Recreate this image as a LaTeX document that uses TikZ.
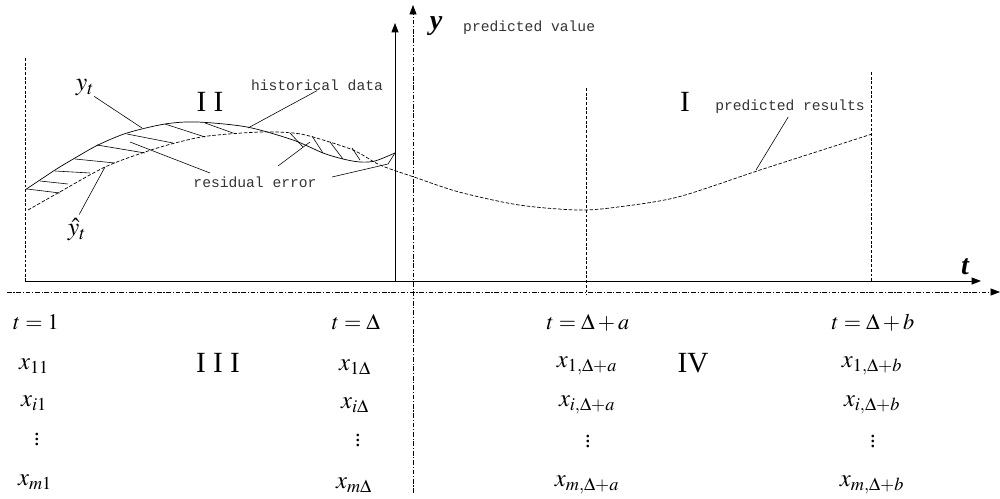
\documentclass[tikz,border=0pt]{standalone}
\usepackage{mathptmx}
\usepackage{fontspec}
\setmainfont{Liberation Serif}
\newfontfamily\annofont{Liberation Mono}
\usetikzlibrary{arrows.meta}
\tikzset{
  axis/.style={line width=0.8pt, -{Triangle[length=8pt,width=6pt]}},
  centre/.style={line width=0.6pt, dash pattern=on 4pt off 1.5pt on 1pt off 1.5pt,
              -{Triangle[length=8pt,width=6pt]}},
  guide/.style={line width=0.5pt, dash pattern=on 2.5pt off 1.5pt},
  fitted/.style={line width=0.6pt, dash pattern=on 3pt off 1.5pt},
  observed/.style={line width=0.6pt},
  hatch/.style={line width=0.5pt},
  leader/.style={line width=0.5pt},
  anno/.style={font=\annofont\fontsize{12.5}{14}\selectfont, text=black!80, inner sep=0pt},
  numeral/.style={font=\fontsize{25}{28}\selectfont, inner sep=0pt},
  eqn/.style={font=\fontsize{19}{22}\selectfont, inner sep=0pt},
  entry/.style={font=\fontsize{21}{24}\selectfont, inner sep=0pt},
  dots/.style={font=\fontsize{19}{22}\selectfont, inner sep=0pt, text height=12pt, text depth=0pt},
  axlabel/.style={font=\fontsize{24}{26}\selectfont\bfseries\itshape, inner sep=0pt},
}
\begin{document}
\begin{tikzpicture}[x=0.03cm, y=-0.03cm]
        \useasboundingbox (0,0) rectangle (1000,498);
        % frame and axes
        \draw[guide] (25,58) -- (25,281);
        \draw[guide] (586,88) -- (586,295);
        \draw[guide] (871,72) -- (871,281);
        \draw[axis] (25,281) -- (981,281);
        \draw[axis] (395,281) -- (395,23);
        \draw[centre] (7,292) -- (1000,292);
        \draw[centre] (413,493) -- (413,5);
        \node[axlabel] (ylab) at (436,26) {y};
        \node[anno,anchor=west] (pv) at (463,28) {predicted value};
        \node[axlabel] (tlab) at (965,267) {t};
        % curves
        \draw[observed] plot[smooth] coordinates {(25,190) (55,170) (75,158) (98,145) (127,133)
              (165,124) (197,122) (247,127) (293,140) (323,153) (343,159) (360,162) (375,161) (395,153)};
        \draw[fitted] plot[smooth] coordinates {(28,210) (58,193) (105,167) (145,152) (175,143)
              (208,136) (260,132) (293,133) (313,137) (353,150) (380,165) (414,177) (459,192)
              (519,205) (578,210) (618,207) (678,197) (757,171) (816,152) (872,134)};
        \foreach \xa/\ya/\xb/\yb in {27/189/60/193, 40/181/68/184, 55/171/90/173, 75/159/115/163,
              97/145/145/153, 127/134/173/143, 165/124/205/137, 205/123/233/133,
              290/133/303/147, 312/136/323/153, 330/142/343/159, 352/148/360/160}
          \draw[hatch] (\xa,\ya) -- (\xb,\yb);
        % labels and leaders
        \node[font=\fontsize{22}{24}\selectfont, inner sep=0pt] (yt) at (85,88) {$y_t$};
        \node[font=\fontsize{22}{24}\selectfont, inner sep=0pt] (yhat) at (77,230) {$\hat{y}_t$};
        \node[numeral] (two) at (210,102) {I~I};
        \node[numeral] (one) at (685,102) {I};
        \node[anno] (hist) at (317,85) {historical data};
        \node[anno] (res) at (255,182) {residual error};
        \node[anno] (pr) at (790,107) {predicted results};
        \coordinate (yt-end) at (142,128);
        \coordinate (yhat-end) at (105,167);
        \coordinate (hist-end) at (248,128);
        \coordinate (res-a) at (210,173);
        \coordinate (res-a-end) at (130,142);
        \coordinate (res-b) at (278,166);
        \coordinate (res-b-end) at (310,142);
        \coordinate (res-c) at (332,177);
        \coordinate (res-c-end) at (388,164);
        \coordinate (curve-end) at (395,153);
        \coordinate (pr-end) at (756,170);
        \draw[leader] (yt.south east) -- (yt-end);
        \draw[leader,shorten <=4pt] (yhat.north) -- (yhat-end);
        \draw[leader] (hist.south) -- (hist-end);
        \draw[leader] (res-a) -- (res-a-end);
        \draw[leader] (res-b) -- (res-b-end);
        \draw[leader] (res-c) -- (res-c-end) -- (curve-end);
        \draw[leader,shorten <=3pt] (pr.south) -- (pr-end);
        % input table
        \node[eqn] (h1) at (36,322) {$t=1$};
        \node[eqn] (h2) at (356,322) {$t=\Delta$};
        \node[eqn] (h3) at (588,323) {$t=\Delta+a$};
        \node[eqn] (h4) at (873,323) {$t=\Delta+b$};
        \node[entry] (a1) at (34,366) {$x_{11}$};
        \node[entry] (a2) at (34,403) {$x_{i1}$};
        \node[dots] (a3) at (37,438) {$\vdots$};
        \node[entry] (a4) at (35,482) {$x_{m1}$};
        \node[entry] (b1) at (355,367) {$x_{1\Delta}$};
        \node[entry] (b2) at (355,405) {$x_{i\Delta}$};
        \node[dots] (b3) at (358,439) {$\vdots$};
        \node[entry] (b4) at (354,485) {$x_{m\Delta}$};
        \node[entry] (c1) at (587,366) {$x_{1,\Delta+a}$};
        \node[entry] (c2) at (587,405) {$x_{i,\Delta+a}$};
        \node[dots] (c3) at (588,440) {$\vdots$};
        \node[entry] (c4) at (587,485) {$x_{m,\Delta+a}$};
        \node[entry] (d1) at (872,366) {$x_{1,\Delta+b}$};
        \node[entry] (d2) at (872,405) {$x_{i,\Delta+b}$};
        \node[dots] (d3) at (873,440) {$\vdots$};
        \node[entry] (d4) at (872,485) {$x_{m,\Delta+b}$};
        \node[numeral] (three) at (218,363) {I~I~I};
        \node[numeral] (four) at (693,363) {IV};
      \end{tikzpicture}
\end{document}
